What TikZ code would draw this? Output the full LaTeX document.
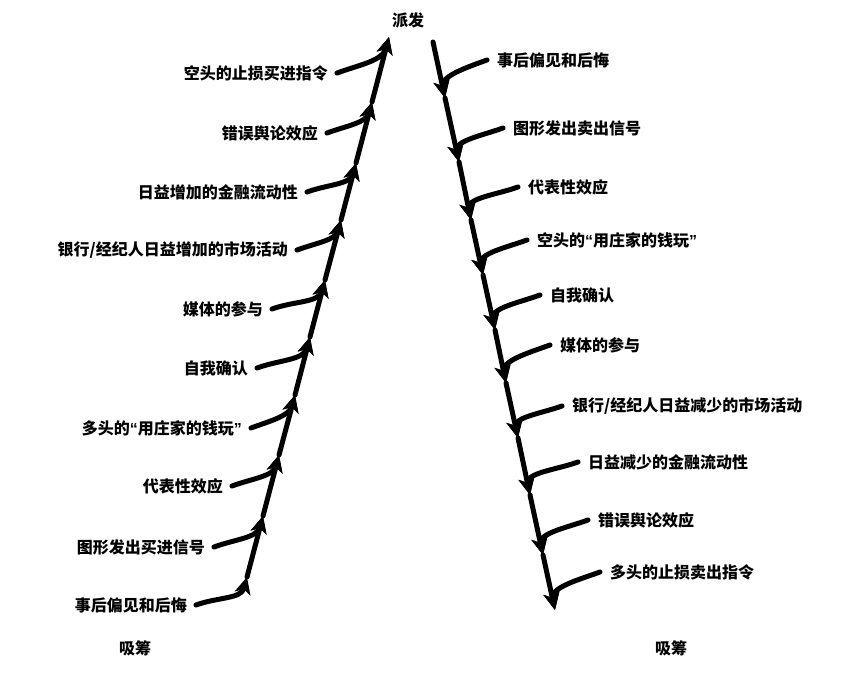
\documentclass[tikz,border=0pt]{standalone}
\usepackage{fontspec}
\setmainfont{Noto Sans CJK SC}
\newfontfamily\qf{Liberation Sans}
\usetikzlibrary{arrows.meta}
\newcommand{\myoq}{{\qf\bfseries “}}
\newcommand{\mycq}{{\qf\bfseries ”}}
\begin{document}
\begin{tikzpicture}[x=1pt,y=-1pt,
  lab/.style={font=\bfseries\fontsize{16}{18}\selectfont, inner ysep=2pt},
  llab/.style={lab, anchor=east, inner xsep=9pt},
  rlab/.style={lab, anchor=west, inner xsep=10pt},
  ttl/.style={lab, inner sep=1pt},
  stem/.style={line width=5pt, line cap=round, -{Stealth[length=17pt,width=16pt,inset=4.5pt]}},
  ]
\useasboundingbox (0,0) rectangle (855,684);
% left stem points
\coordinate (P1) at (247,577);
\coordinate (P2) at (263,516);
\coordinate (P3) at (279,455);
\coordinate (P4) at (295,395);
\coordinate (P5) at (310,337);
\coordinate (P6) at (325,280);
\coordinate (P7) at (341,220);
\coordinate (P8) at (356,163);
\coordinate (P9) at (372,102);
\coordinate (P10) at (389,37);
% right stem points
\coordinate (Q0) at (433,42);
\coordinate (Q1) at (445,98);
\coordinate (Q2) at (459,162);
\coordinate (Q3) at (471,220);
\coordinate (Q4) at (483,275);
\coordinate (Q5) at (495,330);
\coordinate (Q6) at (506,383);
\coordinate (Q7) at (518,438);
\coordinate (Q8) at (530,495);
\coordinate (Q9) at (543,555);
\coordinate (Q10) at (555,610);
% titles
\node[ttl] (top) at (408,20) {派发};
\node[ttl] (bl) at (135,648) {吸筹};
\node[ttl] (br) at (671,648) {吸筹};
% left labels
\node[llab] (L1) at (196,605) {事后偏见和后悔};
\node[llab] (L2) at (214,547) {图形发出买进信号};
\node[llab] (L3) at (232,486) {代表性效应};
\node[llab] (L4) at (251,428) {多头的\myoq 用庄家的钱玩\mycq};
\node[llab] (L5) at (257,368) {自我确认};
\node[llab] (L6) at (272,309) {媒体的参与};
\node[llab] (L7) at (297,250) {银行/经纪人日益增加的市场活动};
\node[llab] (L8) at (307,192) {日益增加的金融流动性};
\node[llab] (L9) at (327,133) {错误舆论效应};
\node[llab] (L10) at (337,73) {空头的止损买进指令};
% right labels
\node[rlab] (R1) at (487,60) {事后偏见和后悔};
\node[rlab] (R2) at (503,128) {图形发出卖出信号};
\node[rlab] (R3) at (518,187) {代表性效应};
\node[rlab] (R4) at (527,240) {空头的\myoq 用庄家的钱玩\mycq};
\node[rlab] (R5) at (540,295) {自我确认};
\node[rlab] (R6) at (550,345) {媒体的参与};
\node[rlab] (R7) at (562,406) {银行/经纪人日益减少的市场活动};
\node[rlab] (R8) at (578,462) {日益减少的金融流动性};
\node[rlab] (R9) at (588,520) {错误舆论效应};
\node[rlab] (R10) at (600,572) {多头的止损卖出指令};
% left stem
\foreach \a/\b in {1/2,2/3,3/4,4/5,5/6,6/7,7/8,8/9,9/10}
  \draw[stem] (P\a) -- (P\b);
\foreach \i in {1,...,10}
  \draw[stem] (L\i.east) to[out=20,in=255] (P\i);
% right stem
\foreach \a/\b in {0/1,1/2,2/3,3/4,4/5,5/6,6/7,7/8,8/9,9/10}
  \draw[stem] (Q\a) -- (Q\b);
\foreach \i in {1,...,10}
  \draw[stem] (R\i.west) to[out=200,in=102] (Q\i);
\end{tikzpicture}
\end{document}
